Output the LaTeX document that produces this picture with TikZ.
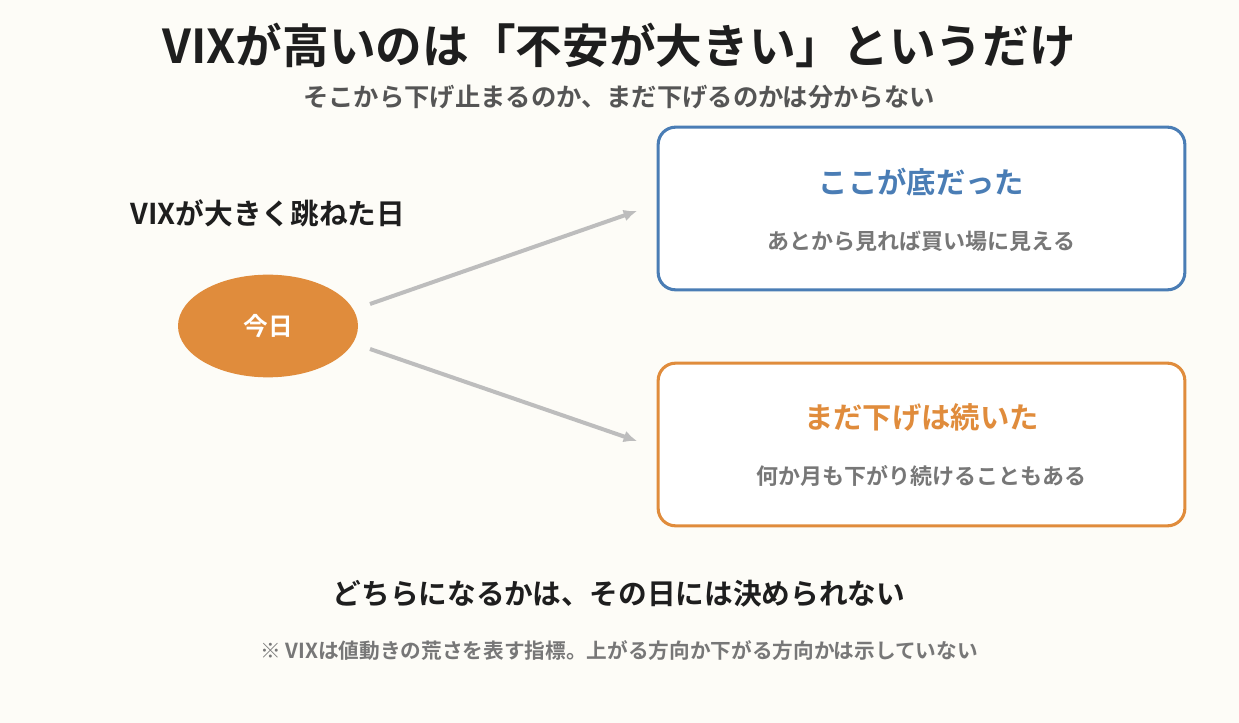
\documentclass[tikz,border=0pt]{standalone}
\usepackage{fontspec}
\setmainfont{Noto Sans CJK JP}[BoldFont={* Bold}]
\usetikzlibrary{arrows.meta,shapes.geometric}
\begin{document}
\begin{tikzpicture}[x=0.75pt,y=-0.75pt,
  txt/.style={font=\bfseries\fontsize{#1}{#1}\selectfont,inner sep=0pt,anchor=center},
  box/.style={draw,line width=2.3pt,rounded corners=13pt,fill=white},
  arr/.style={draw=arrowgray,line width=3pt,-{Latex[length=10pt,width=9pt]}}]
\definecolor{bg}{HTML}{FDFCF7}
\definecolor{dark}{HTML}{1E1E1E}
\definecolor{mid}{HTML}{555555}
\definecolor{lite}{HTML}{777777}
\definecolor{blu}{HTML}{4A7DB5}
\definecolor{org}{HTML}{E08C3C}
\definecolor{arrowgray}{HTML}{BDBDBD}
\fill[bg] (0,0) rectangle (1239,723);
\useasboundingbox (0,0) rectangle (1239,723);
\node[txt=35,text=dark] (title) at (619,45) {VIXが高いのは「不安が大きい」というだけ};
\node[txt=19,text=mid] (sub) at (619,97) {そこから下げ止まるのか、まだ下げるのかは分からない};
\node[txt=21.5,text=dark] (day) at (268,213) {VIXが大きく跳ねた日};
\node[ellipse,fill=org,minimum width=135pt,minimum height=77pt,txt=18.5,text=white] (today) at (268,326) {今日};
\node[box,draw=blu,minimum width=395pt,minimum height=122pt] (b1) at (921.5,208.5) {};
\node[txt=22,text=blu] (b1t) at (921.5,182) {ここが底だった};
\node[txt=16.5,text=lite] (b1s) at (921.5,241) {あとから見れば買い場に見える};
\node[box,draw=org,minimum width=395pt,minimum height=122pt] (b2) at (921.5,444.5) {};
\node[txt=22,text=org] (b2t) at (921.5,417) {まだ下げは続いた};
\node[txt=16.5,text=lite] (b2s) at (921.5,476) {何か月も下がり続けることもある};
\coordinate (a1s) at (370,304); \coordinate (a1e) at (637,211);
\coordinate (a2s) at (370,349); \coordinate (a2e) at (637,441);
\draw[arr] (a1s) -- (a1e);
\draw[arr] (a2s) -- (a2e);
\node[txt=21.5,text=dark] (concl) at (619,594) {どちらになるかは、その日には決められない};
\node[txt=15.5,text=lite] (note) at (619,651) {※ VIXは値動きの荒さを表す指標。上がる方向か下がる方向かは示していない};
\end{tikzpicture}
\end{document}
